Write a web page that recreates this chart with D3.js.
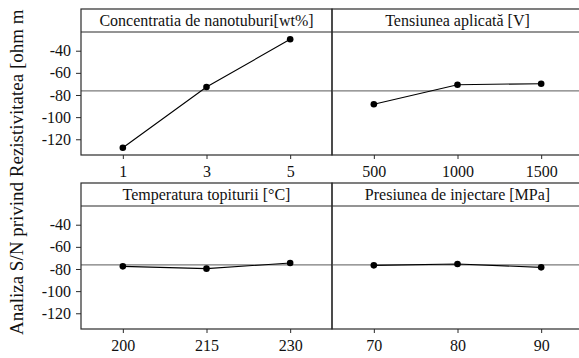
<!DOCTYPE html>
<html>
<head>
<meta charset="utf-8">
<script src="https://cdn.jsdelivr.net/npm/d3@7"></script>
<style>
  html, body { margin: 0; padding: 0; background: #fff; }
  svg { display: block; }
</style>
</head>
<body>
<svg id="chart" width="579" height="358"></svg>
<script>
// Main effects plot for S/N ratios (resistivity)
const factors = [
  "Concentratia de nanotuburi[wt%]",
  "Tensiunea aplicată [V]",
  "Temperatura topiturii [°C]",
  "Presiunea de injectare [MPa]"
];
const concentrationLevels = ["1", "3", "5"];
const voltageLevels = ["500", "1000", "1500"];
const temperatureLevels = ["200", "215", "230"];
const pressureLevels = ["70", "80", "90"];

const concentrationSN = [-127.6, -72.8, -29.7];
const voltageSN = [-88.4, -70.7, -69.8];
const temperatureSN = [-77.6, -79.7, -74.6];
const pressureSN = [-76.7, -75.5, -78.5];

const yTicks = [-40, -60, -80, -100, -120];
const grandMean = -76.3;
const yTitle = "Analiza S/N privind Rezistivitatea [ohm m";

const levels = [concentrationLevels, voltageLevels, temperatureLevels, pressureLevels];
const means = [concentrationSN, voltageSN, temperatureSN, pressureSN];

const FONT = '"Liberation Serif", "Times New Roman", serif';
const svg = d3.select("#chart").style("font-family", FONT);

const left = 81, colW = 251, headerH = 23, plotH = 123;
const rowTops = [9, 183];
const frameColor = "#2a2a2a";

const y = d3.scaleLinear().domain([-134.2, -23.1]).range([plotH, 0]);

factors.forEach((name, i) => {
  const col = i % 2, row = Math.floor(i / 2);
  const x0 = left + col * colW;
  const top = rowTops[row];
  const g = svg.append("g").attr("transform", `translate(${x0},${top})`);
  const plot = g.append("g").attr("transform", `translate(0,${headerH})`);

  const x = d3.scalePoint().domain(levels[i]).range([0, colW]).padding(0.5);

  // header strip
  g.append("text")
    .attr("x", colW / 2).attr("y", headerH / 2 + 5.5)
    .attr("text-anchor", "middle")
    .attr("font-size", 16)
    .attr("fill", "#111")
    .style("font-family", FONT)
    .text(name);

  // grand mean reference
  plot.append("line")
    .attr("x1", 0).attr("x2", colW)
    .attr("y1", y(grandMean)).attr("y2", y(grandMean))
    .attr("stroke", "#7a7a7a").attr("stroke-width", 1.2);

  // bottom axis
  const xAxis = plot.append("g")
    .attr("transform", `translate(0,${plotH})`)
    .call(d3.axisBottom(x).tickSize(4).tickPadding(7));
  xAxis.select(".domain").remove();
  xAxis.selectAll(".tick line").attr("stroke", frameColor);
  xAxis.selectAll(".tick text")
    .style("font-family", FONT)
    .attr("font-size", 16).attr("fill", "#111");

  // left axis only on first column
  if (col === 0) {
    const yAxis = plot.append("g")
      .call(d3.axisLeft(y).tickValues(yTicks).tickSize(5).tickPadding(5)
        .tickFormat(d => d3.format("d")(d).replace("−", "-")));
    yAxis.select(".domain").remove();
    yAxis.selectAll(".tick line").attr("stroke", frameColor);
    yAxis.selectAll(".tick text")
      .style("font-family", FONT)
      .attr("font-size", 16).attr("fill", "#111");
  }

  // effect line and points
  const pts = levels[i].map((lv, k) => ({ lv, v: means[i][k] }));
  plot.append("path")
    .datum(pts)
    .attr("fill", "none").attr("stroke", "#000").attr("stroke-width", 1.1)
    .attr("d", d3.line().x(d => x(d.lv)).y(d => y(d.v)));
  plot.selectAll("circle").data(pts).join("circle")
    .attr("cx", d => x(d.lv)).attr("cy", d => y(d.v)).attr("r", 3.3)
    .attr("fill", "#000");

  // frame lines
  g.append("rect")
    .attr("x", 0).attr("y", 0).attr("width", colW).attr("height", headerH + plotH)
    .attr("fill", "none").attr("stroke", frameColor).attr("stroke-width", 1.2);
  g.append("line")
    .attr("x1", 0).attr("x2", colW).attr("y1", headerH).attr("y2", headerH)
    .attr("stroke", frameColor).attr("stroke-width", 1.2);
});

// y axis title
svg.append("text")
  .attr("transform", "translate(22.5,335) rotate(-90)")
  .attr("text-anchor", "start")
  .attr("font-size", 19)
  .attr("fill", "#111")
  .style("font-family", FONT)
  .text(yTitle);
</script>
</body>
</html>
